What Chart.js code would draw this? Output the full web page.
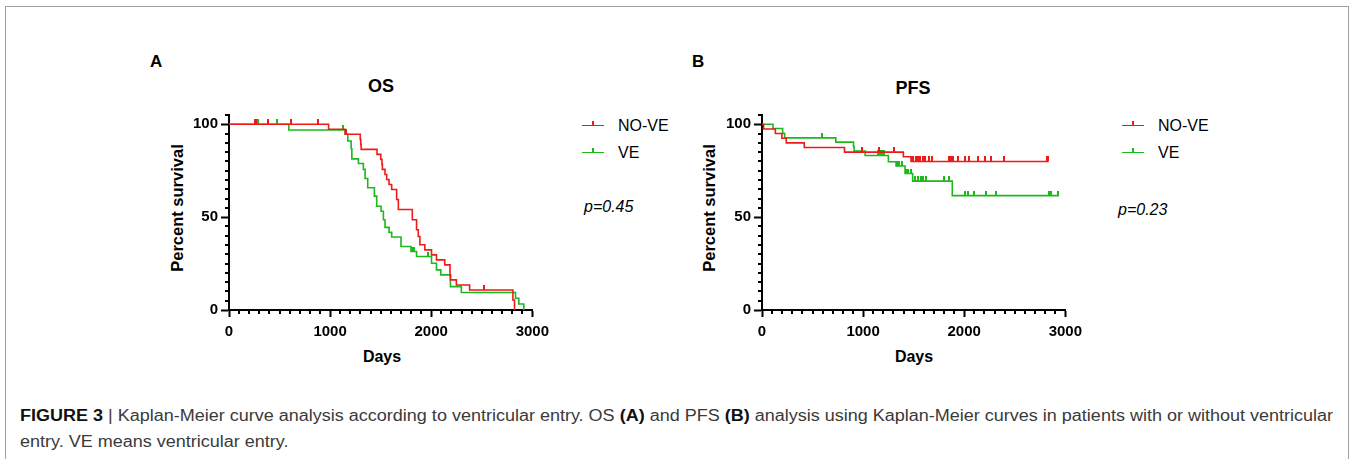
<!DOCTYPE html>
<html>
<head>
<meta charset="utf-8">
<script src="https://cdn.jsdelivr.net/npm/chart.js@4.4.1/dist/chart.umd.min.js"></script>
<style>
  html, body { margin: 0; padding: 0; background: #fff; }
  body { width: 1352px; height: 459px; position: relative; overflow: hidden; font-family: "Liberation Sans", Arial, sans-serif; }
  .frame { position: absolute; left: 5px; top: 6px; width: 1344px; height: 470px; border: 1.5px solid #a0a0a0; border-bottom: none; box-sizing: border-box; }
  .abs { position: absolute; white-space: nowrap; }
  .panel { font-weight: bold; font-size: 17px; color: #000; transform: translateY(-50%); }
  .title { font-weight: bold; font-size: 18px; color: #000; transform: translate(-50%, -50%); }
  .ytitle { font-weight: bold; font-size: 16.5px; color: #000; transform: translate(-50%, -50%) rotate(-90deg); }
  .xtitle { font-weight: bold; font-size: 16px; color: #000; transform: translate(-50%, -50%); }
  .leg { font-size: 16px; color: #000; transform: translateY(-50%); }
  .legline { position: absolute; height: 0; width: 22px; border-top: 1.5px solid; }
  .legtick { position: absolute; width: 0; height: 4px; border-left: 2px solid; }
  .pval { font-size: 16px; font-style: italic; color: #000; transform: translateY(-50%); }
  .cap { font-size: 16px; color: #3a3a3a; transform: translateY(-50%); }
  .cap b { color: #111; }
  canvas { position: absolute; }
</style>
</head>
<body>
<div class="frame"></div>

<div class="abs panel" style="left:150px; top:62px;">A</div>
<div class="abs title" style="left:381px; top:86px;">OS</div>
<div class="abs ytitle" style="left:177px; top:208px;">Percent survival</div>
<div class="abs xtitle" style="left:382px; top:357px;">Days</div>

<div class="abs panel" style="left:692px; top:62px;">B</div>
<div class="abs title" style="left:913px; top:88px;">PFS</div>
<div class="abs ytitle" style="left:709px; top:208px;">Percent survival</div>
<div class="abs xtitle" style="left:914px; top:357px;">Days</div>

<div id="legA"></div>
<div id="legB"></div>

<div class="abs pval" style="left:584px; top:207px;">p=0.45</div>
<div class="abs pval" style="left:1118px; top:210px;">p=0.23</div>

<div class="abs cap" id="cap1" style="left:20px; top:416px;"><b>FIGURE 3</b> | Kaplan-Meier curve analysis according to ventricular entry. OS <b>(A)</b> and PFS <b>(B)</b> analysis using Kaplan-Meier curves in patients with or without ventricular</div>
<div class="abs cap" id="cap2" style="left:20px; top:442px;">entry. VE means ventricular entry.</div>

<canvas id="chartA" width="375" height="240" style="left:180px; top:100px;"></canvas>
<canvas id="chartB" width="375" height="240" style="left:713px; top:100px;"></canvas>

<script>
// ---- data: event times (days) and survival (%) after each step ----
const groupNames = ['NO-VE', 'VE'];
const groupColors = ['#ee1a1a', '#1cb81c'];

// OS, NO-VE
const osNoVeTimes = [0, 985, 1149, 1298, 1303, 1307, 1464, 1501, 1513, 1517, 1543, 1560, 1583, 1609, 1658, 1675, 1813, 1855, 1872, 1888, 1937, 2003, 2052, 2134, 2186, 2190, 2249, 2380, 2808, 2824];
const osNoVeSurv  = [100, 97.3, 94.6, 91.9, 89.2, 86.5, 83.8, 81.1, 78.4, 75.7, 73.0, 70.3, 67.6, 64.9, 59.5, 54.1, 48.6, 43.2, 39.6, 35.1, 32.4, 29.7, 27.0, 24.3, 18.9, 16.2, 13.5, 10.8, 5.4, 0];
const osNoVeCensor = [256, 268, 384, 617, 880, 1160, 2518];

// OS, VE
const osVeTimes = [0, 591, 1149, 1175, 1208, 1215, 1280, 1329, 1346, 1372, 1438, 1461, 1504, 1527, 1543, 1583, 1609, 1701, 1800, 1855, 2003, 2052, 2095, 2190, 2298, 2834, 2867, 2916];
const osVeSurv  = [100, 96.9, 94.6, 91.0, 86.8, 81.4, 78.9, 75.7, 70.8, 65.8, 61.3, 55.9, 53.2, 48.6, 44.5, 41.8, 39.3, 34.2, 31.5, 28.8, 25.2, 21.6, 18.9, 12.6, 9.4, 6.3, 3.2, 0];
const osVeCensor = [289, 476, 1123, 1807, 1833, 1970];

// PFS, NO-VE
const pfsNoVeTimes = [0, 16, 132, 197, 240, 418, 816, 1398, 1474, 2833];
const pfsNoVeSurv  = [100, 97.5, 95.0, 92.5, 90.0, 87.5, 85.0, 82.5, 80.0, 80.0];
const pfsNoVeCensor = [987, 1161, 1306, 1480, 1497, 1520, 1540, 1563, 1589, 1612, 1652, 1678, 1852, 1865, 1875, 1891, 1941, 2007, 2050, 2132, 2205, 2261, 2392, 2823, 2833];

// PFS, VE
const pfsVeTimes = [0, 109, 204, 224, 730, 905, 911, 1020, 1250, 1326, 1415, 1490, 1882, 2938];
const pfsVeSurv  = [100, 97.7, 95.1, 92.7, 90.4, 88.0, 85.6, 83.2, 79.8, 77.5, 73.5, 69.4, 61.6, 61.6];
const pfsVeCensor = [592, 1145, 1168, 1191, 1210, 1332, 1358, 1382, 1425, 1448, 1470, 1513, 1540, 1569, 1595, 1622, 1803, 1852, 2007, 2040, 2096, 2211, 2310, 2839, 2862, 2928];

const xTicks = [0, 1000, 2000, 3000];
const yTicks = [0, 50, 100];

// survival at time t read from the step function
const survAt = (times, surv, t) => {
  let s = surv[0];
  for (let i = 0; i < times.length; i++) {
    if (times[i] <= t) { s = surv[i]; }
  }
  return s;
};

const toPoints = (times, surv) => times.map((t, i) => ({x: t, y: surv[i]}));
const toCensor = (times, surv, cens) => cens.map((t) => ({x: t, y: survAt(times, surv, t)}));

// censor mark: short vertical stroke sitting on top of the curve
const censorMark = (color) => {
  const c = document.createElement('canvas');
  c.width = 2;
  c.height = 10;
  const g = c.getContext('2d');
  g.fillStyle = color;
  g.fillRect(0, 0, 2, 5);
  return c;
};

Chart.defaults.font.family = '"Liberation Sans", Arial, sans-serif';
Chart.defaults.color = '#000';

const minorTicks = {
  id: 'minorTicks',
  afterDraw(chart) {
    const {ctx, scales: {x, y}} = chart;
    ctx.save();
    ctx.strokeStyle = '#000';
    ctx.lineWidth = 2;
    ctx.beginPath();
    for (let v = 100; v < 3000; v += 100) {
      if (v % 1000 === 0) { continue; }
      const px = Math.round(x.getPixelForValue(v));
      ctx.moveTo(px, y.bottom);
      ctx.lineTo(px, y.bottom + 4);
    }
    for (let v = 5; v <= 105; v += 5) {
      if (v % 50 === 0) { continue; }
      const py = Math.round(y.getPixelForValue(v));
      ctx.moveTo(x.left - 4, py);
      ctx.lineTo(x.left, py);
    }
    ctx.stroke();
    ctx.restore();
  }
};

const makeChart = (id, curves) => {
  const datasets = [];
  curves.forEach((c, i) => {
    datasets.push({
      label: groupNames[i],
      data: toPoints(c.times, c.surv),
      borderColor: groupColors[i],
      borderWidth: 1.6,
      stepped: 'before',
      pointRadius: 0,
      fill: false,
    });
    datasets.push({
      label: groupNames[i] + ' censored',
      data: toCensor(c.times, c.surv, c.censor),
      showLine: false,
      pointStyle: censorMark(groupColors[i]),
      radius: 5,
    });
  });

  return new Chart(document.getElementById(id), {
    type: 'line',
    data: {datasets},
    plugins: [minorTicks],
    options: {
      responsive: false,
      animation: false,
      layout: {padding: {left: 0, right: 20, top: 15, bottom: 0}},
      plugins: {
        legend: {display: false},
        tooltip: {enabled: false},
      },
      scales: {
        x: {
          type: 'linear',
          min: 0,
          max: 3000,
          afterBuildTicks: (axis) => { axis.ticks = xTicks.map((v) => ({value: v})); },
          afterFit: (axis) => { axis.height = 30; },
          ticks: {
            font: {size: 15, weight: 'bold'},
            padding: 6,
            maxRotation: 0,
            callback: (v) => String(v),
          },
          grid: {
            drawOnChartArea: false,
            tickLength: 7,
            tickWidth: 2,
            tickColor: '#000',
          },
          border: {color: '#000', width: 2},
        },
        y: {
          type: 'linear',
          min: 0,
          max: 105,
          afterBuildTicks: (axis) => { axis.ticks = yTicks.map((v) => ({value: v})); },
          afterFit: (axis) => { axis.width = 49; },
          ticks: {
            font: {size: 15, weight: 'bold'},
            padding: 3,
            callback: (v) => String(v),
          },
          grid: {
            drawOnChartArea: false,
            tickLength: 8,
            tickWidth: 2,
            tickColor: '#000',
          },
          border: {color: '#000', width: 2},
        },
      },
    },
  });
};

makeChart('chartA', [
  {times: osNoVeTimes, surv: osNoVeSurv, censor: osNoVeCensor},
  {times: osVeTimes, surv: osVeSurv, censor: osVeCensor},
]);
makeChart('chartB', [
  {times: pfsNoVeTimes, surv: pfsNoVeSurv, censor: pfsNoVeCensor},
  {times: pfsVeTimes, surv: pfsVeSurv, censor: pfsVeCensor},
]);

// legends
const buildLegend = (id, left) => {
  const el = document.getElementById(id);
  groupNames.forEach((name, i) => {
    const top = 125 + i * 27;
    el.insertAdjacentHTML('beforeend',
      `<div class="legline" style="left:${left}px; top:${top}px; border-color:${groupColors[i]};"></div>` +
      `<div class="legtick" style="left:${left + 10}px; top:${top - 4}px; border-color:${groupColors[i]};"></div>` +
      `<div class="abs leg" style="left:${left + 36}px; top:${top + 1}px;">${name}</div>`);
  });
};
buildLegend('legA', 582);
buildLegend('legB', 1122);

// fit caption first line to its printed width, second line uses the same stretch
const cap1 = document.getElementById('cap1');
const cap2 = document.getElementById('cap2');
const k = 1313 / cap1.getBoundingClientRect().width;
[cap1, cap2].forEach((el) => {
  el.style.transformOrigin = '0 50%';
  el.style.transform = `translateY(-50%) scaleX(${k})`;
});
</script>
</body>
</html>
